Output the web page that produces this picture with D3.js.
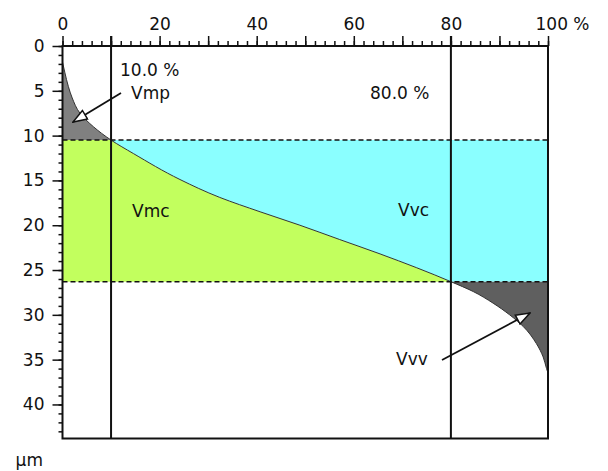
<!DOCTYPE html>
<html>
<head>
<meta charset="utf-8">
<script src="https://cdn.jsdelivr.net/npm/d3@7"></script>
<style>
        body { margin: 0; background: #fff; }
        text { font-family: "DejaVu Sans", Verdana, sans-serif; }
</style>
</head>
<body>
<script>

// Bearing area (Abbott) curve
const bearingRatio = [0, 0.5, 1.2, 2.0, 3.6, 6.35, 10, 14.6, 24.2, 32.4, 40.7, 48.9, 57.1, 65.4, 80, 84.6, 88.7, 92.1, 94.9, 97.6, 99.0, 99.7, 100];
const depth = [1.8, 3.0, 4.5, 5.8, 7.5, 9.0, 10.5, 12.0, 14.9, 16.9, 18.5, 20.0, 21.6, 23.2, 26.3, 27.4, 28.7, 30.0, 31.3, 33.2, 34.7, 36.0, 36.5];

// Material ratios and their heights
const mrValues = [10, 80];
const mrDepths = [10.5, 26.3];
const mrLabels = ["10.0 %", "80.0 %"];

// Tick labels
const xMajor = [0, 10, 20, 30, 40, 50, 60, 70, 80, 90, 100];
const xLabels = [0, 20, 40, 60, 80, 100];
const yMajor = [0, 5, 10, 15, 20, 25, 30, 35, 40];

document.addEventListener('DOMContentLoaded', function () {

        const w = 608;
        const h = 471;

        const svg = d3.select("body")
                .append("svg")
                .attr('width', w)
                .attr('height', h)

        const curve = bearingRatio.map((d, i) => ({ x: d, y: depth[i] }))

        const xScale = d3.scaleLinear()
                .domain([0, 100])
                .range([62.5, 548])
        const yScale = d3.scaleLinear()
                .domain([0, 43.8])
                .range([46, 438.5])

        const defs = svg.append('defs')

        // bands for clipping the fills
        function band(id, y0, y1) {
                defs.append('clipPath')
                        .attr('id', id)
                        .append('rect')
                        .attr('x', xScale(0))
                        .attr('y', yScale(y0))
                        .attr('width', xScale(100) - xScale(0))
                        .attr('height', yScale(y1) - yScale(y0))
        }
        band('peak', 0, mrDepths[0])
        band('core', mrDepths[0], mrDepths[1])
        band('valley', mrDepths[1], 43.8)

        defs.append('marker')
                .attr('id', 'head')
                .attr('viewBox', '0 0 16 12')
                .attr('refX', 15)
                .attr('refY', 6)
                .attr('markerWidth', 16)
                .attr('markerHeight', 12)
                .attr('markerUnits', 'userSpaceOnUse')
                .attr('orient', 'auto')
                .append('path')
                .attr('d', 'M1,1 L15,6 L1,11 Z')
                .attr('fill', 'white')
                .attr('stroke', '#111')
                .attr('stroke-width', 1.5)
                .attr('stroke-linejoin', 'miter')

        const leftArea = d3.area()
                .curve(d3.curveMonotoneY)
                .y(d => yScale(d.y))
                .x0(xScale(0))
                .x1(d => xScale(d.x))
        const rightArea = d3.area()
                .curve(d3.curveMonotoneY)
                .y(d => yScale(d.y))
                .x0(d => xScale(d.x))
                .x1(xScale(100))

        svg.append('path').datum(curve)
                .attr('d', leftArea)
                .attr('clip-path', 'url(#peak)')
                .attr('fill', '#808080')
        svg.append('path').datum(curve)
                .attr('d', leftArea)
                .attr('clip-path', 'url(#core)')
                .attr('fill', '#c2ff5e')
        svg.append('path').datum(curve)
                .attr('d', rightArea)
                .attr('clip-path', 'url(#core)')
                .attr('fill', '#8affff')
        svg.append('path').datum(curve)
                .attr('d', rightArea)
                .attr('clip-path', 'url(#valley)')
                .attr('fill', '#5f5f5f')

        // the curve itself
        svg.append('path').datum(curve)
                .attr('d', d3.line().curve(d3.curveMonotoneY).x(d => xScale(d.x)).y(d => yScale(d.y)))
                .attr('fill', 'none')
                .attr('stroke', '#333')
                .attr('stroke-width', 1)

        // dashed height lines
        svg.selectAll('.hline')
                .data(mrDepths)
                .enter()
                .append('line')
                .attr('class', 'hline')
                .attr('x1', xScale(0))
                .attr('x2', xScale(100))
                .attr('y1', d => yScale(d))
                .attr('y2', d => yScale(d))
                .attr('stroke', '#111')
                .attr('stroke-width', 1.5)
                .attr('stroke-dasharray', '5,3')

        // vertical material ratio lines
        svg.selectAll('.vline')
                .data(mrValues)
                .enter()
                .append('line')
                .attr('class', 'vline')
                .attr('x1', d => xScale(d))
                .attr('x2', d => xScale(d))
                .attr('y1', yScale(0) - 10)
                .attr('y2', yScale(43.8))
                .attr('stroke', '#111')
                .attr('stroke-width', 2)

        // frame
        svg.append('rect')
                .attr('x', xScale(0))
                .attr('y', yScale(0))
                .attr('width', xScale(100) - xScale(0))
                .attr('height', yScale(43.8) - yScale(0))
                .attr('fill', 'none')
                .attr('stroke', '#111')
                .attr('stroke-width', 2)

        // x axis (top)
        svg.append('g')
                .attr('transform', `translate(0,${yScale(0)})`)
                .call(d3.axisTop(xScale).tickValues(d3.range(0, 101, 2)).tickSize(5).tickFormat(''))
        const xAxisG = svg.append('g')
                .attr('transform', `translate(0,${yScale(0)})`)
                .call(d3.axisTop(xScale).tickValues(xMajor).tickSize(10).tickPadding(6)
                        .tickFormat(d => xLabels.includes(d) ? (d == 100 ? '100 %' : d) : ''))
        xAxisG.selectAll('text')
                .filter(d => d == 100)
                .attr('text-anchor', 'start')
                .attr('x', -13)

        // y axis (left)
        svg.append('g')
                .attr('transform', `translate(${xScale(0)},0)`)
                .call(d3.axisLeft(yScale).tickValues(d3.range(0, 44, 1)).tickSize(4).tickFormat(''))
        svg.append('g')
                .attr('transform', `translate(${xScale(0)},0)`)
                .call(d3.axisLeft(yScale).tickValues(yMajor).tickSize(10).tickPadding(8))

        svg.selectAll('.domain').remove()
        svg.selectAll('.tick line')
                .attr('stroke', '#111')
                .attr('stroke-width', 1.5)
        svg.selectAll('.tick text')
                .style('font-size', '17px')
                .attr('fill', '#111')

        svg.append('text')
                .text('µm')
                .attr('x', 43)
                .attr('y', 466)
                .attr('text-anchor', 'end')
                .style('font-size', '17px')
                .attr('fill', '#111')

        // labels
        const labels = [
                { t: mrLabels[0], x: 120, y: 76 },
                { t: 'Vmp', x: 131, y: 99 },
                { t: mrLabels[1], x: 370, y: 99 },
                { t: 'Vmc', x: 132, y: 217 },
                { t: 'Vvc', x: 398, y: 216 },
                { t: 'Vvv', x: 396, y: 365 }
        ]
        svg.selectAll('.lbl')
                .data(labels)
                .enter()
                .append('text')
                .attr('class', 'lbl')
                .text(d => d.t)
                .attr('x', d => d.x)
                .attr('y', d => d.y)
                .style('font-size', '17px')
                .attr('fill', '#111')

        // arrows
        svg.append('line')
                .attr('x1', 121).attr('y1', 93)
                .attr('x2', 73).attr('y2', 122)
                .attr('stroke', '#111')
                .attr('stroke-width', 1.8)
                .attr('marker-end', 'url(#head)')
        svg.append('line')
                .attr('x1', 442).attr('y1', 360)
                .attr('x2', 530).attr('y2', 313)
                .attr('stroke', '#111')
                .attr('stroke-width', 1.8)
                .attr('marker-end', 'url(#head)')
})
</script>
</body>
</html>
